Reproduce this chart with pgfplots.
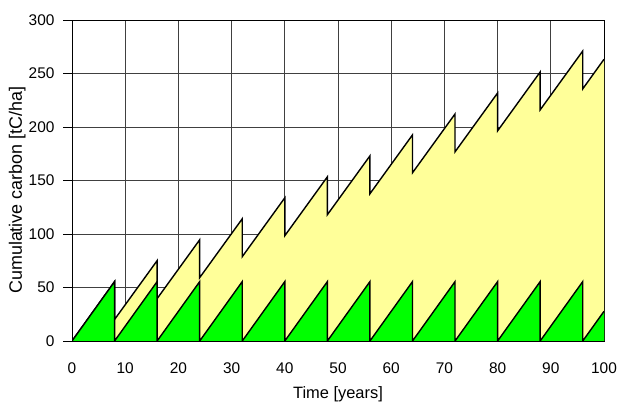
\documentclass[border=0pt]{standalone}
\usepackage{pgfplots}
\pgfplotsset{compat=1.18}
\usepackage{fontspec}
\setmainfont{Liberation Sans}
\definecolor{paleyellow}{HTML}{FFFF99}
\definecolor{brightgreen}{HTML}{00FF00}
\definecolor{gridgray}{HTML}{404040}
\begin{document}
\begin{tikzpicture}
\useasboundingbox (-72bp,-63bp) rectangle (547bp,341bp);
\begin{axis}[
  at={(0,0)}, anchor=south west,
  scale only axis,
  width=532bp, height=321bp,
  xmin=0, xmax=100, ymin=0, ymax=300,
  xtick={0,10,...,100}, ytick={0,50,...,300},
  grid=major,
  major grid style={gridgray, line width=0.8bp},
  axis line style={black, line width=0.9bp},
  x tick style={draw=none},
  y tick style={black, line width=0.9bp},
  tick align=outside,
  ytick pos=left,
  major tick length=9bp,
  /pgf/number format/assume math mode=true,
  ticklabel style={font=\fontsize{15.5}{18}\selectfont},
  xticklabel style={yshift=-9bp},
  yticklabel style={xshift=-5bp},
  xlabel={Time [years]},
  ylabel={Cumulative carbon [tC/ha]},
  xlabel style={font=\fontsize{16.5}{19}\selectfont, at={(axis description cs:0.5,-0.166)}, anchor=center},
  ylabel style={font=\fontsize{18}{21}\selectfont, at={(axis description cs:-0.103,0.47)}, anchor=center},
]
\addplot[fill=paleyellow, draw=none] coordinates {
(0,0) (8,55.5) (8,20.1) (16,75.1) (16,39.6) (24,94.6) (24,59.2) (32,114.2) (32,78.8) (40,133.8) (40,98.4) (48,153.4) (48,118.0) (56,173.0) (56,137.6) (64,192.6) (64,157.2) (72,212.2) (72,176.8) (80,231.8) (80,196.4) (88,251.4) (88,216.0) (96,271.0) (96,235.6) (100,263.3)
} \closedcycle;
\addplot[black, line width=1.4bp, line join=miter] coordinates {
(0,0) (8,55.5) (8,20.1) (16,75.1) (16,39.6) (24,94.6) (24,59.2) (32,114.2) (32,78.8) (40,133.8) (40,98.4) (48,153.4) (48,118.0) (56,173.0) (56,137.6) (64,192.6) (64,157.2) (72,212.2) (72,176.8) (80,231.8) (80,196.4) (88,251.4) (88,216.0) (96,271.0) (96,235.6) (100,263.3)
};
\addplot[fill=brightgreen, draw=none] coordinates {
(0,0) (8,55.5) (8,0) (16,55.5) (16,0) (24,55.5) (24,0) (32,55.5) (32,0) (40,55.5) (40,0) (48,55.5) (48,0) (56,55.5) (56,0) (64,55.5) (64,0) (72,55.5) (72,0) (80,55.5) (80,0) (88,55.5) (88,0) (96,55.5) (96,0) (100,27.75)
} \closedcycle;
\addplot[black, line width=1.4bp, line join=miter] coordinates {
(0,0) (8,55.5) (8,0) (16,55.5) (16,0) (24,55.5) (24,0) (32,55.5) (32,0) (40,55.5) (40,0) (48,55.5) (48,0) (56,55.5) (56,0) (64,55.5) (64,0) (72,55.5) (72,0) (80,55.5) (80,0) (88,55.5) (88,0) (96,55.5) (96,0) (100,27.75)
};
\end{axis}
\end{tikzpicture}
\end{document}
